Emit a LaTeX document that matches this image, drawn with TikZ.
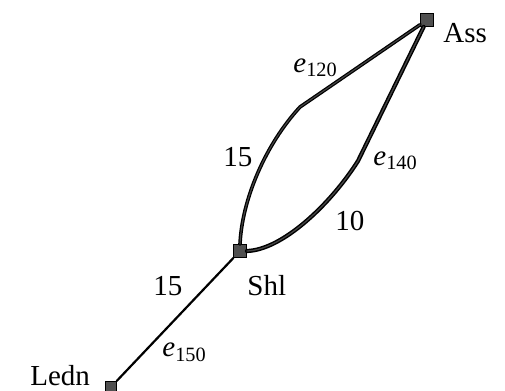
\documentclass[tikz,border=0pt]{standalone}
\usepackage{fontspec}
\setmainfont{Liberation Serif}
\usepackage{tikz}
\usetikzlibrary{positioning}
\definecolor{Cno}{RGB}{80,80,80}
\definecolor{Cmiolo}{RGB}{70,70,70}
\newcommand{\elab}[1]{\textit{e}\textsubscript{#1}}

\begin{document}
\begin{tikzpicture}[x=0.5pt,y=-0.5pt,
    font=\fontsize{14.5}{17}\selectfont,
    sq/.style={draw=black, fill=Cno, minimum size=6.5pt, inner sep=0pt},
    rot/.style={inner sep=0pt, anchor=base west},
    grossa/.style={draw=black, line width=#1, line cap=round,
      postaction={draw=Cmiolo, line width=0.3*#1}},
    fina/.style={draw=black, line width=1.1pt}]
      \useasboundingbox (0,0) rectangle (505,391);
      % Nos (quadrados)
      \node[sq] (ass) at (427,20) {};
      \node[sq] (shl) at (240,251) {};
      \node[sq, minimum size=5.5pt] (ledn) at (111,387) {};
      % Ponto de quebra das duas curvas
      \coordinate (qa) at (300,107);
      \coordinate (qb) at (358,161);
      % Arestas
      \draw[fina] (shl) -- (ledn);
      \draw[grossa=1.8pt] (shl.north) .. controls (242,200) and (265,145) .. (qa) -- (ass);
      \draw[grossa=2.1pt] (shl.east) .. controls (282,250) and (330,205) .. (qb) -- (ass);
      % Rotulos dos nos
      \node[rot] (tass) at (443,42) {Ass};
      \node[rot] (tshl) at (247,295) {Shl};
      \node[rot] (tledn) at (30,386) {Ledn};
      % Rotulos das arestas
      \node[rot] (t120) at (293,72) {\elab{120}};
      \node[rot] (t140) at (373,165) {\elab{140}};
      \node[rot] (t150) at (162,357) {\elab{150}};
      \node[rot] (c15a) at (223,167) {15};
      \node[rot] (c10) at (335,231) {10};
      \node[rot] (c15b) at (153,295) {15};
    \end{tikzpicture}
\end{document}
